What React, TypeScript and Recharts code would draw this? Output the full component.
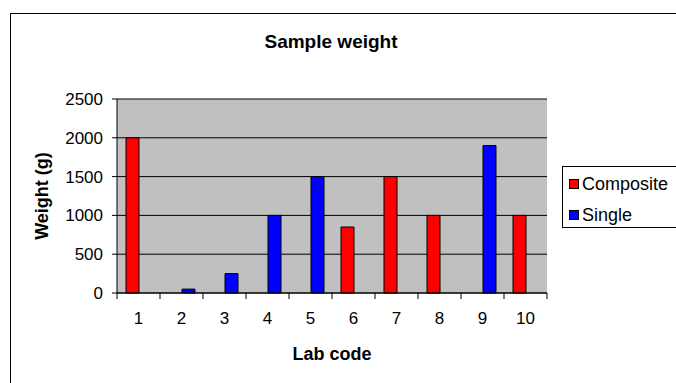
import React from 'react';
import { BarChart, Bar, XAxis, YAxis, CartesianGrid, Legend, Label } from 'recharts';

// Lab codes along the x axis
const CODES = ['1', '2', '3', '4', '5', '6', '7', '8', '9', '10'];
// Sample weight in grams per lab (null = no sample of that kind)
const COMPOSITE = [2000, null, null, null, null, 850, 1500, 1000, null, 1000];
const SINGLE = [null, 50, 250, 1000, 1500, null, null, null, 1900, null];
const WEIGHT_TICKS = [0, 500, 1000, 1500, 2000, 2500];

const data = CODES.map((code, i) => ({
  code,
  composite: COMPOSITE[i],
  single: SINGLE[i],
}));

const FONT = '"Liberation Sans", Arial, sans-serif';
const X_TICK_SIZE = 6;
const X_TICK_MARGIN = 13;

// Category label plus Excel-style tick marks on the category boundaries
const CodeTick = (props: any) => {
  const { x, y, payload, index, width } = props;
  const half = payload && typeof payload.offset === 'number' ? payload.offset : width / CODES.length / 2;
  const axisY = y - X_TICK_SIZE - X_TICK_MARGIN;
  return (
    <g>
      <line x1={x - half} x2={x - half} y1={axisY} y2={axisY + X_TICK_SIZE} stroke="#000" />
      {index === CODES.length - 1 && (
        <line x1={x + half} x2={x + half} y1={axisY} y2={axisY + X_TICK_SIZE} stroke="#000" />
      )}
      <text x={x} y={y} dy="0.71em" textAnchor="middle" fill="#000" fontSize={17} fontFamily={FONT}>
        {payload.value}
      </text>
    </g>
  );
};

const WeightLabel = (props: any) => {
  const vb = props.viewBox || { x: 0, y: 0, width: 0, height: 0 };
  const cx = vb.x + 42;
  const cy = vb.y + vb.height / 2;
  return (
    <text
      x={cx}
      y={cy}
      textAnchor="middle"
      dominantBaseline="central"
      transform={`rotate(-90, ${cx}, ${cy})`}
      fontSize={18}
      fontWeight="bold"
      fontFamily={FONT}
      fill="#000"
    >
      Weight (g)
    </text>
  );
};

const CodeLabel = (props: any) => {
  const vb = props.viewBox || { x: 0, y: 0, width: 0, height: 0 };
  return (
    <text
      x={vb.x + vb.width / 2}
      y={vb.y + 61}
      textAnchor="middle"
      dominantBaseline="central"
      fontSize={18}
      fontWeight="bold"
      fontFamily={FONT}
      fill="#000"
    >
      Lab code
    </text>
  );
};

const LegendBox = (props: any) => {
  const items = props.payload || [];
  return (
    <div
      style={{
        width: 118,
        height: 62,
        boxSizing: 'border-box',
        border: '1px solid #000',
        background: '#fff',
        position: 'relative',
        fontFamily: FONT,
        fontSize: 18,
        color: '#000',
      }}
    >
      {items.map((it: any, i: number) => (
        <div key={it.value} style={{ position: 'absolute', left: 6, top: 6 + i * 31, height: 22, display: 'flex', alignItems: 'center' }}>
          <span
            style={{
              display: 'inline-block',
              width: 10,
              height: 10,
              boxSizing: 'border-box',
              border: '1px solid #000',
              background: it.color,
              marginRight: 3,
            }}
          />
          <span style={{ lineHeight: '22px' }}>{it.value}</span>
        </div>
      ))}
    </div>
  );
};

export default function App() {
  return (
    <div style={{ position: 'absolute', left: 0, top: 0, width: 676, height: 383, overflow: 'hidden', background: '#fff' }}>
      <div
        style={{
          position: 'absolute',
          left: 10,
          top: 13,
          width: 700,
          height: 420,
          border: '1px solid #000',
          boxSizing: 'border-box',
        }}
      />
      <div
        style={{
          position: 'absolute',
          left: 0,
          top: 31,
          width: 662,
          textAlign: 'center',
          fontFamily: FONT,
          fontWeight: 'bold',
          fontSize: 19,
          lineHeight: '22px',
          color: '#000',
        }}
      >
        Sample weight
      </div>
      <div style={{ position: 'absolute', left: 0, top: 0 }}>
        <BarChart
          width={676}
          height={383}
          data={data}
          margin={{ top: 99, right: 129, bottom: 0, left: 0 }}
          barGap={0}
        >
          <CartesianGrid vertical={false} stroke="#000" fill="#C0C0C0" fillOpacity={1} />
          <XAxis
            dataKey="code"
            height={90}
            interval={0}
            tickLine={false}
            tickSize={X_TICK_SIZE}
            tickMargin={X_TICK_MARGIN}
            axisLine={{ stroke: '#000' }}
            tick={<CodeTick />}
          >
            <Label content={CodeLabel} />
          </XAxis>
          <YAxis
            domain={[0, 2500]}
            ticks={WEIGHT_TICKS}
            interval={0}
            width={117}
            tickSize={5}
            tickMargin={9}
            axisLine={{ stroke: '#000' }}
            tickLine={{ stroke: '#000' }}
            tick={{ fill: '#000', fontSize: 17, fontFamily: FONT }}
          >
            <Label content={WeightLabel} />
          </YAxis>
          <YAxis
            yAxisId="frame"
            orientation="right"
            width={0}
            tick={false}
            tickLine={false}
            axisLine={{ stroke: '#808080' }}
          />
          <Legend
            layout="horizontal"
            align="center"
            verticalAlign="middle"
            wrapperStyle={{ left: 562, top: 166, width: 118, height: 62 }}
            content={<LegendBox />}
          />
          <Bar dataKey="composite" name="Composite" fill="#FF0000" stroke="#000" strokeWidth={1} barSize={13} isAnimationActive={false} />
          <Bar dataKey="single" name="Single" fill="#0000FF" stroke="#000" strokeWidth={1} barSize={13} isAnimationActive={false} />
        </BarChart>
      </div>
    </div>
  );
}
